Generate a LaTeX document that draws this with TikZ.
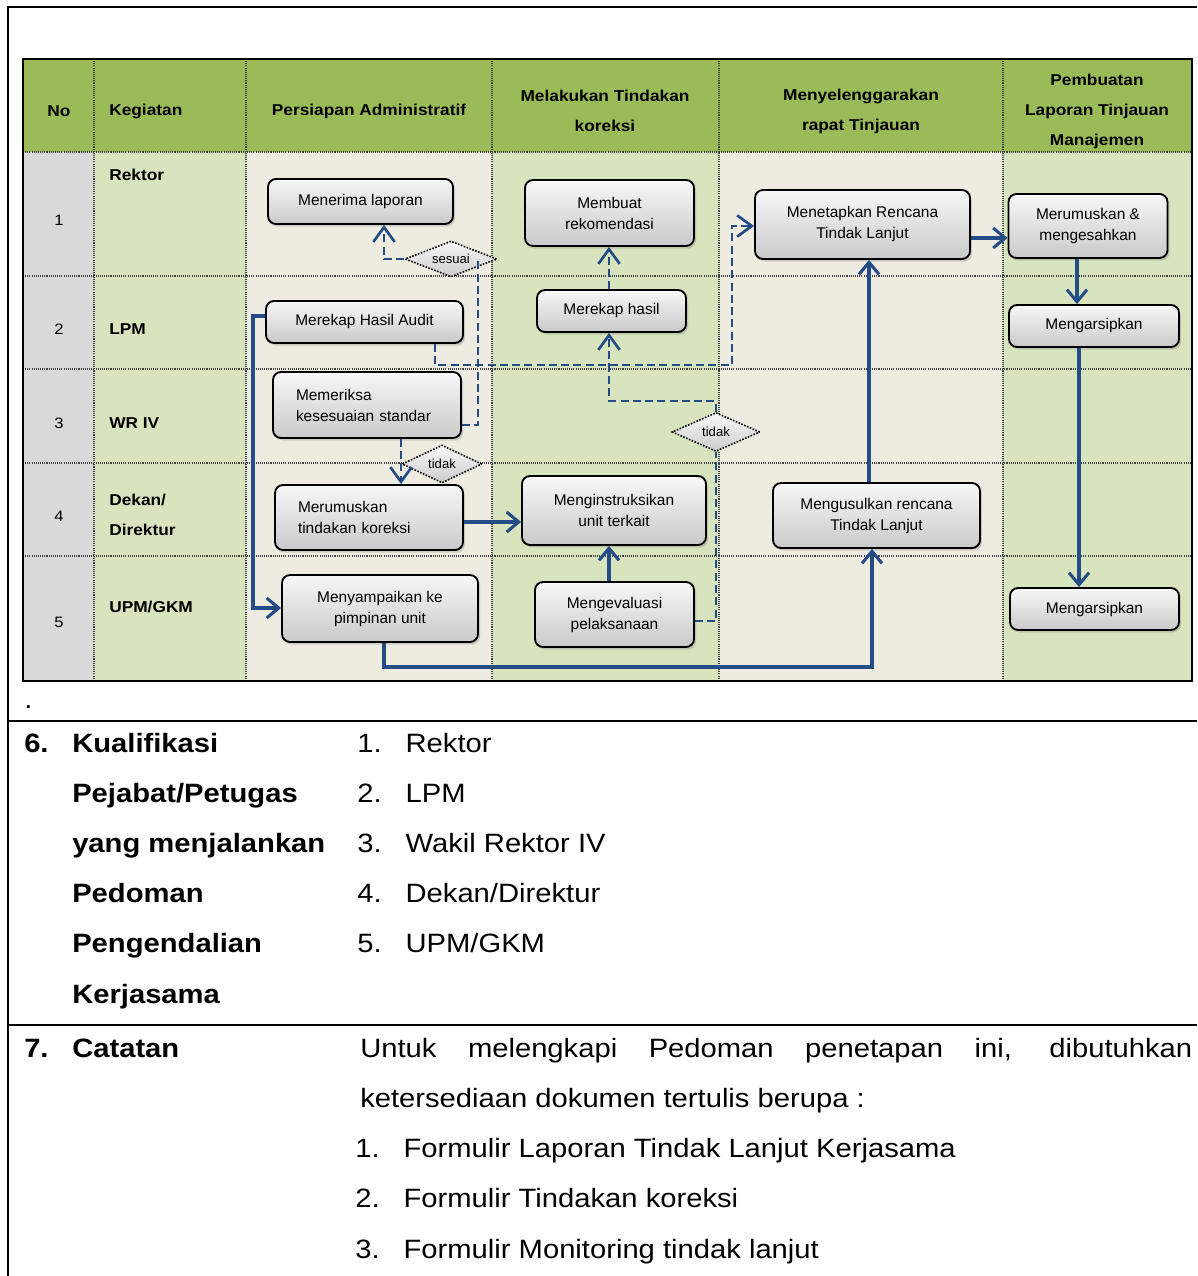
\documentclass[tikz,border=0pt]{standalone}
\usepackage{fontspec}
\setmainfont{Liberation Sans}
\newfontfamily\widesans[FakeStretch=1.1]{Liberation Sans}
\usetikzlibrary{shapes.geometric,arrows.meta,shadows}
\definecolor{hdrgreen}{RGB}{155,187,89}
\definecolor{lgreen}{RGB}{215,228,189}
\definecolor{beige}{RGB}{238,236,225}
\definecolor{nogray}{RGB}{217,217,217}
\definecolor{flowblue}{RGB}{36,76,135}
\begin{document}
\begin{tikzpicture}[x=0.75pt,y=-0.75pt,
  box/.style={draw=black, line width=1.4pt, rounded corners=6pt,
    top color=gray!6, bottom color=gray!42,
    drop shadow={shadow xshift=1.5pt, shadow yshift=-2pt, opacity=0.3},
    font=\fontsize{11.6}{15.75}\selectfont, align=center, inner sep=0pt},
  dec/.style={diamond, draw=black, line width=1.2pt, dash pattern=on 1.2pt off 1.1pt,
    top color=gray!5, bottom color=gray!40, shape aspect=2.5, inner sep=0pt,
    font=\fontsize{9.8}{12}\selectfont},
  hdr/.style={font=\widesans\bfseries\fontsize{11.8}{22.5}\selectfont, align=center, inner sep=0pt},
  lab/.style={font=\widesans\bfseries\fontsize{11.8}{23}\selectfont, align=left, inner sep=0pt, anchor=west},
  num/.style={font=\widesans\fontsize{11.3}{14}\selectfont, inner sep=0pt},
  grid/.style={draw=black!75, line width=0.8pt, dash pattern=on 0.8pt off 0.8pt},
  sconn/.style={draw=flowblue, line width=2.3pt, -{Straight Barb[length=9pt,width=15pt]}},
  dline/.style={draw=flowblue, line width=2pt, dash pattern=on 6pt off 3.2pt},
  dconn/.style={dline, -{Straight Barb[length=11pt,width=16pt]}},
  big/.style={font=\widesans\fontsize{19.9}{24}\selectfont, inner sep=0pt, anchor=base west},
  bigb/.style={big, font=\widesans\bfseries\fontsize{19.9}{24}\selectfont},
  rule/.style={draw=black, line width=1.6pt}
]
\useasboundingbox (0,0) rectangle (1197,1276);
\fill[white] (0,0) rectangle (1197,1276);

% page rules
\draw[rule] (8,1276) -- (8,7) -- (1197,7);
\draw[rule] (8,721) -- (1197,721);
\draw[rule] (8,1025) -- (1197,1025);

% table fills
\fill[hdrgreen] (23,59) rectangle (1192,152);
\fill[nogray] (23,152) rectangle (94,681);
\fill[lgreen] (94,152) rectangle (246,681);
\fill[beige] (246,152) rectangle (492,681);
\fill[lgreen] (492,152) rectangle (719,681);
\fill[beige] (719,152) rectangle (1003,681);
\fill[lgreen] (1003,152) rectangle (1192,681);
% grid
\foreach \xx in {94,246,492,719,1003} \draw[grid] (\xx,59) -- (\xx,681);
\foreach \yy in {152,276,369,463,556} \draw[grid] (23,\yy) -- (1192,\yy);
\draw[draw=black, line width=1.6pt] (23,59) rectangle (1192,681);

% headers
\node[hdr] (hno) at (59,111) {No};
\node[hdr, anchor=west] (hkeg) at (109,111) {Kegiatan};
\node[hdr] (hpers) at (369,111) {Persiapan Administratif};
\node[hdr] (hmel) at (605,111) {Melakukan Tindakan\\koreksi};
\node[hdr] (hmeny) at (861,111) {Menyelenggarakan\\rapat Tinjauan};
\node[hdr] (hpemb) at (1097,111.5) {Pembuatan\\Laporan Tinjauan\\Manajemen};

% row numbers and labels
\node[num] (n1) at (59,220) {1};
\node[num] (n2) at (59,329) {2};
\node[num] (n3) at (59,423) {3};
\node[num] (n4) at (59,516) {4};
\node[num] (n5) at (59,622) {5};
\node[lab] (l1) at (109,175) {Rektor};
\node[lab] (l2) at (109,329) {LPM};
\node[lab] (l3) at (109,423) {WR IV};
\node[lab] (l4) at (109,515) {Dekan/\\Direktur};
\node[lab] (l5) at (109,607) {UPM/GKM};

% boxes
\node[box, minimum width=138.75pt, minimum height=33.75pt] (mlap) at (360.5,201.5) {Menerima laporan};
\node[box, minimum width=126.75pt, minimum height=49.5pt] (mrek) at (609.5,213) {Membuat\\rekomendasi};
\node[box, minimum width=161.25pt, minimum height=51.75pt] (mren) at (862.5,224.5) {Menetapkan Rencana\\Tindak Lanjut};
\node[box, minimum width=119.25pt, minimum height=48pt] (mrum) at (1088,226) {Merumuskan \&\\mengesahkan};
\node[box, minimum width=147.75pt, minimum height=31.5pt] (mhau) at (364.5,322) {Merekap Hasil Audit};
\node[box, minimum width=111.75pt, minimum height=31.5pt] (mhas) at (611.5,311) {Merekap hasil};
\node[box, minimum width=127.5pt, minimum height=31.5pt] (arsip1) at (1094,326) {Mengarsipkan};
\node[box, align=left, text width=106.5pt, minimum width=141pt, minimum height=49.5pt] (mper) at (367,405) {Memeriksa\\kesesuaian standar};
\node[box, align=left, text width=106.5pt, minimum width=141pt, minimum height=48.75pt] (mtk) at (369,517.5) {Merumuskan\\tindakan koreksi};
\node[box, minimum width=138pt, minimum height=51.75pt] (mins) at (614,510.5) {Menginstruksikan\\unit terkait};
\node[box, minimum width=155.25pt, minimum height=48.75pt] (musul) at (876.5,515.5) {Mengusulkan rencana\\Tindak Lanjut};
\node[box, minimum width=147pt, minimum height=50.25pt] (mpimp) at (380,608.5) {Menyampaikan ke\\pimpinan unit};
\node[box, minimum width=119.25pt, minimum height=48.75pt] (meval) at (614.5,614.5) {Mengevaluasi\\pelaksanaan};
\node[box, minimum width=126.75pt, minimum height=31.5pt] (arsip2) at (1094.5,609) {Mengarsipkan};

% decisions
\node[dec, minimum width=69pt, minimum height=27pt] (sesuai) at (451,259) {sesuai};
\node[dec, minimum width=60pt, minimum height=28.5pt] (tidak1) at (442,464) {tidak};
\node[dec, minimum width=66pt, minimum height=29.25pt] (tidak2) at (716,432) {tidak};

% dashed connectors
\draw[dconn] (mhau.south -| 435,0) -- (435,365) -| (732,226) -- (mren.west |- 0,226);
\draw[dline] (mper.east |- 0,425) -| (sesuai.center -| 478,0);
\draw[dconn] (sesuai.west) -| (mlap.south -| 384,0);
\draw[dconn] (mper.south -| 401,0) -- (mtk.north -| 401,0);
\draw[dline] (meval.east |- 0,621) -| (tidak2.south);
\draw[dconn] (tidak2.north) |- (609,401) -- (mhas.south -| 609,0);
\draw[dconn] (mhas.north -| 609,0) -- (mrek.south -| 609,0);

% solid connectors
\draw[sconn] (mtk.east |- 0,522) -- (mins.west |- 0,522);
\draw[sconn] (meval.north -| 609,0) -- (mins.south -| 609,0);
\draw[sconn] (mhau.west |- 0,316) -- (253,316) |- (mpimp.west |- 0,608);
\draw[sconn] (mpimp.south -| 384,0) |- (872,667) -- (musul.south -| 872,0);
\draw[sconn] (musul.north -| 869,0) -- (mren.south -| 869,0);
\draw[sconn] (mren.east |- 0,238) -- (mrum.west |- 0,238);
\draw[sconn] (mrum.south -| 1077,0) -- (arsip1.north -| 1077,0);
\draw[sconn] (arsip1.south -| 1079,0) -- (arsip2.north -| 1079,0);

% text below
\node[big] (dot) at (24,708) {.};
\node[bigb] (s6) at (24,752) {6.};
\node[bigb] (k1) at (72,752) {Kualifikasi};
\node[bigb] (k2) at (72,802.2) {Pejabat/Petugas};
\node[bigb] (k3) at (72,852.4) {yang menjalankan};
\node[bigb] (k4) at (72,902.6) {Pedoman};
\node[bigb] (k5) at (72,952.8) {Pengendalian};
\node[bigb] (k6) at (72,1003) {Kerjasama};
\node[big] (r1) at (357,752) {1.\hspace{18pt}Rektor};
\node[big] (r2) at (357,802.2) {2.\hspace{18pt}LPM};
\node[big] (r3) at (357,852.4) {3.\hspace{18pt}Wakil Rektor IV};
\node[big] (r4) at (357,902.6) {4.\hspace{18pt}Dekan/Direktur};
\node[big] (r5) at (357,952.8) {5.\hspace{18pt}UPM/GKM};

\node[bigb] (s7) at (24,1057) {7.};
\node[bigb] (cat) at (72,1057) {Catatan};
\node[big] (c1) at (360,1057) {\makebox[624pt][s]{Untuk melengkapi Pedoman penetapan ini, dibutuhkan}};
\node[big] (c2) at (360,1107) {ketersediaan dokumen tertulis berupa :};
\node[big] (c3) at (355,1157) {1.\hspace{18pt}Formulir Laporan Tindak Lanjut Kerjasama};
\node[big] (c4) at (355,1207.5) {2.\hspace{18pt}Formulir Tindakan koreksi};
\node[big] (c5) at (355,1258) {3.\hspace{18pt}Formulir Monitoring tindak lanjut};
\end{tikzpicture}
\end{document}
